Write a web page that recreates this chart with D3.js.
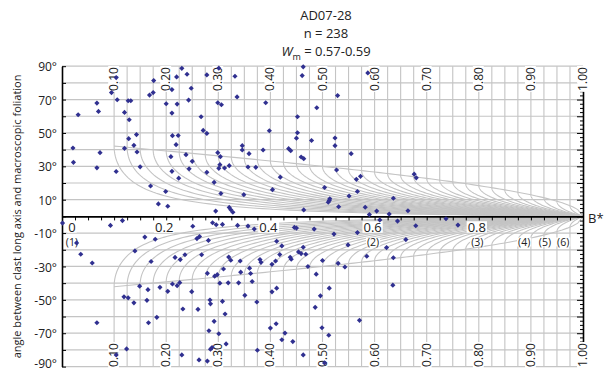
<!DOCTYPE html>
<html>
<head>
<meta charset="utf-8">
<script src="https://cdn.jsdelivr.net/npm/d3@7"></script>
<style>
  body { margin: 0; background: #fff; }
  text { font-family: "Open Sans", sans-serif; fill: #222; }
</style>
</head>
<body>
<div id="chart"></div>
<script>
// clast measurements: shape factor B* and angle to foliation (deg)
const bstar = [
  0.021,0.022,0.031,0.067,0.070,0.073,0.067,0.095,0.104,0.106,0.104,0.120,0.129,0.127,0.132,0.128,0.120,0.138,0.143,0.144,
  0.150,0.168,0.175,0.176,0.170,0.185,0.199,0.203,0.200,0.211,0.211,0.220,0.240,0.230,0.221,0.212,0.223,0.219,0.209,0.211,
  0.224,0.238,0.250,0.244,0.243,0.248,0.267,0.271,0.278,0.278,0.301,0.332,0.299,0.306,0.336,0.278,0.299,0.304,0.303,0.301,
  0.312,0.321,0.292,0.305,0.295,0.321,0.324,0.328,0.346,0.346,0.359,0.357,0.372,0.349,0.386,0.391,0.398,0.404,0.419,0.452,
  0.452,0.450,0.435,0.439,0.463,0.461,0.459,0.464,0.479,0.489,0.504,0.513,0.511,0.514,0.531,0.464,0.524,0.524,0.527,0.529,
  0.555,0.551,0.565,0.573,0.567,0.582,0.590,0.587,0.604,0.628,0.636,0.664,0.676,0.680,
  0.001,0.028,0.036,0.058,0.067,0.093,0.116,0.104,0.124,0.140,0.159,0.179,0.171,0.119,0.127,0.138,0.149,0.165,0.163,0.166,
  0.182,0.188,0.203,0.217,0.227,0.236,0.212,0.221,0.226,0.232,0.251,0.259,0.264,0.230,0.263,0.249,0.261,0.268,0.281,0.289,
  0.296,0.279,0.293,0.298,0.303,0.319,0.320,0.308,0.337,0.357,0.369,0.446,0.450,0.484,0.522,0.567,0.412,0.422,0.463,0.324,
  0.342,0.380,0.382,0.410,0.418,0.438,0.440,0.454,0.459,0.468,0.472,0.500,0.530,0.543,0.549,0.585,0.623,0.636,0.310,0.343,
  0.360,0.362,0.339,0.365,0.403,0.488,0.513,0.635,0.351,0.374,0.403,0.412,0.284,0.285,0.308,0.313,0.292,0.282,0.301,0.315,
  0.288,0.285,0.279,0.375,0.400,0.411,0.422,0.428,0.443,0.463,0.486,0.499,0.512,0.504,0.496,0.571,0.610,0.644,0.679,0.660,
  0.737,0.760
];
const angle = [
  41.0,32.4,60.9,67.9,62.9,38.2,29.1,74.2,83.2,69.9,26.9,62.3,57.9,69.3,69.3,46.6,40.8,42.6,49.0,38.6,
  29.7,72.7,74.2,81.4,18.2,7.5,14.9,6.1,67.5,76.0,61.9,83.6,85.2,88.7,67.3,48.4,48.5,43.0,35.8,27.0,
  22.9,37.0,33.0,28.5,69.7,76.8,59.7,51.5,49.7,84.8,88.8,84.0,68.1,66.9,71.6,26.4,38.2,35.8,31.0,28.8,
  29.0,30.4,20.4,13.7,3.2,5.4,4.0,2.5,42.4,39.8,37.6,29.6,29.4,13.0,39.8,68.1,51.3,16.0,23.5,59.7,
  50.1,46.9,40.6,39.4,89.6,84.4,35.6,34.6,45.5,65.1,17.3,9.6,8.5,10.6,5.8,3.9,47.0,42.4,27.8,72.4,
  37.6,12.2,22.2,24.0,14.9,5.5,1.1,86.0,3.2,1.4,10.9,3.4,25.3,23.1,
  -4.0,-15.9,-22.7,-27.9,-63.7,-5.4,-2.5,-83.0,-79.4,-20.7,-12.4,-13.7,-27.0,-48.2,-48.8,-51.8,-41.8,-43.9,-50.3,-63.7,
  -60.5,-42.5,-44.9,-24.6,-25.9,-23.0,-40.5,-41.5,-39.7,-55.5,-5.9,-13.3,-12.1,-83.0,-86.0,-45.1,-55.7,-23.0,-14.4,-3.8,
  -5.0,-34.1,-35.8,-34.9,-40.0,-39.8,-24.4,-4.8,-5.4,-5.8,-7.6,-6.6,-7.0,-7.6,-10.6,-9.7,-14.9,-17.7,-18.5,-26.3,
  -26.7,-25.9,-27.5,-26.7,-22.9,-24.5,-25.7,-21.3,-22.3,-22.7,-30.0,-26.4,-28.1,-30.3,-17.1,-23.9,-18.7,-24.8,-31.5,-33.4,
  -31.0,-34.2,-39.8,-39.0,-28.7,-34.6,-43.0,-41.2,-47.3,-51.3,-45.2,-43.0,-50.1,-52.4,-50.9,-58.5,-62.9,-68.5,-70.3,-76.4,
  -78.6,-79.6,-86.7,-80.2,-66.9,-64.3,-73.9,-69.9,-75.0,-83.0,-54.5,-66.7,-71.2,-87.8,-47.6,-62.3,-2.1,-2.8,-5.6,-13.9,
  -1.4,-5.2
];

// Wm reference curves of the net
const curveWm = [0.100,0.125,0.150,0.175,0.200,0.225,0.250,0.275,0.300,0.325,0.350,0.375,0.400,0.425,0.450,0.475,
  0.500,0.525,0.550,0.575,0.600,0.625,0.650,0.675,0.700,0.725,0.750,0.775,0.800,0.825,0.850,0.875,0.900,0.925,0.950,0.975];
const netLabels = ["0.10","0.20","0.30","0.40","0.50","0.60","0.70","0.80","0.90","1.00"];
const netLabelVals = [0.1,0.2,0.3,0.4,0.5,0.6,0.7,0.8,0.9,1.0];
const bLabels = ["0","0.2","0.4","0.6","0.8"];
const bLabelVals = [0,0.2,0.4,0.6,0.8];
const angleTicks = [90,70,50,30,10,-10,-30,-50,-70,-90];
const caseLabels = ["(1)","(2)","(3)","(4)","(5)","(6)"];
const caseVals = [0.019,0.597,0.797,0.887,0.927,0.962];

const width = 605, height = 372;
const grey = "#c4c4c4";
const dotColor = "#303090";
const deg = 180 / Math.PI;

const svg = d3.select("#chart").append("svg")
  .attr("width", width).attr("height", height);

const x = d3.scaleLinear().domain([0, 1]).range([62, 583]);
const y = d3.scaleLinear().domain([-90, 90]).range([366.6, 66.2]);

const line = d3.line().x(d => x(d[0])).y(d => y(d[1]));

// horizontal grid every 10 deg
svg.append("g").selectAll("line")
  .data(d3.range(-90, 91, 10).filter(d => d !== 0))
  .enter().append("line")
  .attr("x1", x(0)).attr("x2", x(1))
  .attr("y1", d => y(d)).attr("y2", d => y(d))
  .attr("stroke", grey).attr("stroke-width", 1.2);

function curvePts(w, s) {
  var knee = Math.acos(w) / 2 * deg;
  var pts = [[w, 90 * s], [w, knee * s]];
  for (var i = 1; i <= 80; i++) {
    var t = i / 80, b = w + (1 - w) * t * t;
    pts.push([b, s * (Math.acos(w) - Math.acos(Math.min(1, w / b))) / 2 * deg]);
  }
  return pts;
}

var curves = svg.append("g").attr("fill", "none").attr("stroke", grey).attr("stroke-width", 1.1);
curveWm.forEach(function(w) {
  curves.append("path").attr("d", line(curvePts(w, 1)));
  curves.append("path").attr("d", line(curvePts(w, -1)));
});
// knee envelope
var env = d3.range(0.1, 1.0001, 0.01).map(b => [b, Math.acos(Math.min(1, b)) / 2 * deg]);
curves.append("path").attr("d", line(env));
curves.append("path").attr("d", line(env.map(d => [d[0], -d[1]])));

// B* axis through 0
var xAxis = d3.axisBottom(x).tickValues(d3.range(0, 1.0001, 0.025)).tickSize(4).tickSizeOuter(0).tickFormat("");
var gx = svg.append("g").attr("transform", "translate(0," + y(0) + ")").call(xAxis);
gx.select(".domain").attr("stroke-width", 1.6);

// right axis
var minor = d3.range(-90, 90.1, 2.5).filter(d => d % 10 !== 0);
svg.append("g").attr("transform", "translate(" + x(1) + ",0)")
  .call(d3.axisLeft(y).tickValues(minor).tickSize(3).tickSizeOuter(0).tickFormat(""))
  .select(".domain").attr("stroke-width", 1.6);
svg.append("g").attr("transform", "translate(" + x(1) + ",0)")
  .call(d3.axisLeft(y).tickValues(d3.range(-80, 81, 10)).tickSize(6).tickSizeOuter(0).tickFormat(""))
  .select(".domain").remove();

// left axis
var gl = svg.append("g").attr("transform", "translate(" + x(0) + ",0)")
  .call(d3.axisRight(y).tickValues(d3.range(-90, 91, 10)).tickSize(4).tickSizeOuter(0).tickFormat(""));
gl.select(".domain").attr("stroke-width", 1.6);
svg.append("g").attr("transform", "translate(" + x(0) + ",0)")
  .call(d3.axisLeft(y).tickValues(angleTicks).tickSize(0).tickPadding(5).tickFormat(d => d + "°"))
  .call(g => g.select(".domain").remove())
  .selectAll("text").attr("font-size", 12).attr("dy", d => d === -90 ? "0.05em" : "0.38em");

function boxedText(g, str, size) {
  var t = g.append("text").text(str).attr("font-size", size)
    .attr("text-anchor", "middle").attr("dominant-baseline", "central");
  var bb = t.node().getBBox();
  var pad = bb.height * 0.18;
  g.insert("rect", "text").attr("x", bb.x - 1).attr("y", bb.y + pad)
    .attr("width", bb.width + 2).attr("height", bb.height - 2 * pad).attr("fill", "#fff");
}

// rotated Wm labels top and bottom
netLabelVals.forEach(function(v, i) {
  [79, 355].forEach(function(cy) {
    var g = svg.append("g").attr("transform", "translate(" + (x(v) - 0.5) + "," + cy + ") rotate(-90)");
    boxedText(g, netLabels[i], 12);
  });
});

// B* labels
bLabelVals.forEach(function(v, i) {
  var g = svg.append("g").attr("transform", "translate(" + (i === 0 ? 72 : x(v) - 2) + ",227)");
  boxedText(g, bLabels[i], 13);
});
caseVals.forEach(function(v, i) {
  var g = svg.append("g").attr("transform", "translate(" + x(v) + ",242)");
  boxedText(g, caseLabels[i], 10.5);
});

svg.append("text").attr("x", 588).attr("y", 218).attr("dominant-baseline", "central")
  .attr("font-size", 13).text("B*");

// titles
var title = svg.append("g").attr("text-anchor", "middle").attr("font-size", 13);
title.append("text").attr("x", 326).attr("y", 20).text("AD07-28");
title.append("text").attr("x", 326).attr("y", 38).text("n = 238");
var wm = title.append("text").attr("x", 326).attr("y", 56);
wm.append("tspan").attr("font-style", "italic").text("W");
wm.append("tspan").attr("font-size", 9).attr("dy", 4).text("m");
wm.append("tspan").attr("dy", -4).text(" = 0.57-0.59");

svg.append("text")
  .attr("transform", "translate(16," + y(0) + ") rotate(-90)")
  .attr("text-anchor", "middle").attr("dominant-baseline", "central")
  .attr("font-size", 11)
  .text("angle between clast long axis and macroscopic foliation");

// clasts
var diamond = d3.symbol().type(d3.symbolDiamond2).size(17);
svg.append("g").selectAll("path")
  .data(bstar.map((b, i) => [b, angle[i]]))
  .enter().append("path")
  .attr("d", diamond)
  .attr("transform", d => "translate(" + x(d[0]) + "," + y(d[1]) + ")")
  .attr("fill", dotColor);
</script>
</body>
</html>
